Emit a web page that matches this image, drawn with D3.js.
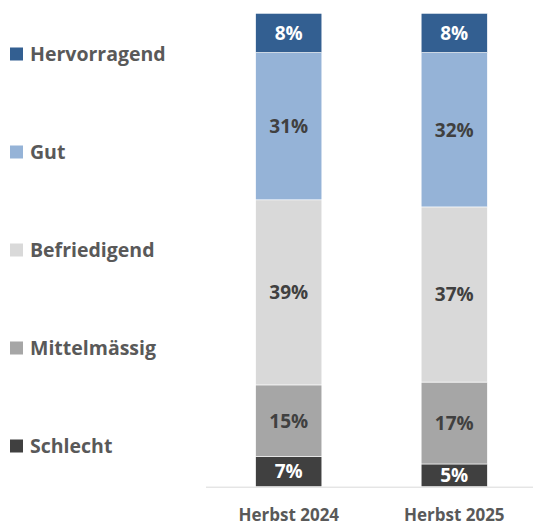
<!DOCTYPE html>
<html>
<head>
<meta charset="utf-8">
<script src="https://cdn.jsdelivr.net/npm/d3@7"></script>
<style>
  body { margin: 0; background: #fff; }
  text { font-family: "Open Sans", Lato, sans-serif; font-weight: bold; }
</style>
</head>
<body>
<div id="graph"></div>
<script>
// categories and series (bottom to top in the stack)
const categories = ["Herbst 2024", "Herbst 2025"]
const seriesNames = ["Schlecht", "Mittelmässig", "Befriedigend", "Gut", "Hervorragend"]
const seriesColors = ["#404040", "#a6a6a6", "#d9d9d9", "#95b3d7", "#335f91"]
const labelColors = ["#fff", "#404040", "#404040", "#404040", "#fff"]

// shares (percent)
const schlecht = [6.4, 4.8]
const mittelmaessig = [15.1, 17.3]
const befriedigend = [39.1, 37.0]
const gut = [31.1, 32.6]
const hervorragend = [8.3, 8.3]
// printed labels
const labels = [
  ["7%", "5%"],
  ["15%", "17%"],
  ["39%", "37%"],
  ["31%", "32%"],
  ["8%", "8%"]
]

const width = 533, height = 527
const svg = d3.select('#graph').append('svg').attr('width', width).attr('height', height)

// build table for stacking
const table = categories.map((c, i) => ({
  cat: c,
  Schlecht: schlecht[i],
  "Mittelmässig": mittelmaessig[i],
  Befriedigend: befriedigend[i],
  Gut: gut[i],
  Hervorragend: hervorragend[i]
}))

const stack = d3.stack().keys(seriesNames)
const layers = stack(table)

const xScale = d3.scaleBand().domain(categories).range([206, 537]).paddingInner(0.6).paddingOuter(0.3)
const yScale = d3.scaleLinear().domain([0, 100]).range([486.7, 13.3])

// bars
layers.forEach((layer, k) => {
  const g = svg.append('g')
  g.selectAll('rect').data(layer).enter().append('rect')
    .attr('x', d => xScale(d.data.cat))
    .attr('width', xScale.bandwidth())
    .attr('y', d => yScale(d[1]))
    .attr('height', d => yScale(d[0]) - yScale(d[1]))
    .attr('fill', seriesColors[k])
    .attr('stroke', '#fff')
    .attr('stroke-width', 0.6)

  g.selectAll('text').data(layer).enter().append('text')
    .attr('x', d => xScale(d.data.cat) + xScale.bandwidth() / 2)
    .attr('y', d => (yScale(d[0]) + yScale(d[1])) / 2)
    .attr('dy', '0.36em')
    .attr('text-anchor', 'middle')
    .attr('font-size', 19)
    .attr('fill', labelColors[k])
    .text((d, i) => labels[k][i])
})

// x axis line + category labels
svg.append('line')
  .attr('x1', 206).attr('x2', 533)
  .attr('y1', yScale(0) + 0.5).attr('y2', yScale(0) + 0.5)
  .attr('stroke', '#d9d9d9').attr('stroke-width', 1)

svg.selectAll('.cat').data(categories).enter().append('text')
  .attr('class', 'cat')
  .attr('x', d => xScale(d) + xScale.bandwidth() / 2)
  .attr('y', 521)
  .attr('text-anchor', 'middle')
  .attr('font-size', 17)
  .attr('fill', '#595959')
  .text(d => d)

// legend (top to bottom)
const legendNames = seriesNames.slice().reverse()
const legendColors = seriesColors.slice().reverse()
const legendY = d3.scalePoint().domain(legendNames).range([54, 446])

const leg = svg.selectAll('.leg').data(legendNames).enter().append('g')
  .attr('class', 'leg')
  .attr('transform', d => `translate(10, ${legendY(d)})`)
leg.append('rect')
  .attr('x', 0).attr('y', -6.5).attr('width', 13).attr('height', 13)
  .attr('fill', (d, i) => legendColors[i])
leg.append('text')
  .attr('x', 20).attr('y', 0).attr('dy', '0.36em')
  .attr('font-size', 19.5)
  .attr('fill', '#595959')
  .text(d => d)
</script>
</body>
</html>
